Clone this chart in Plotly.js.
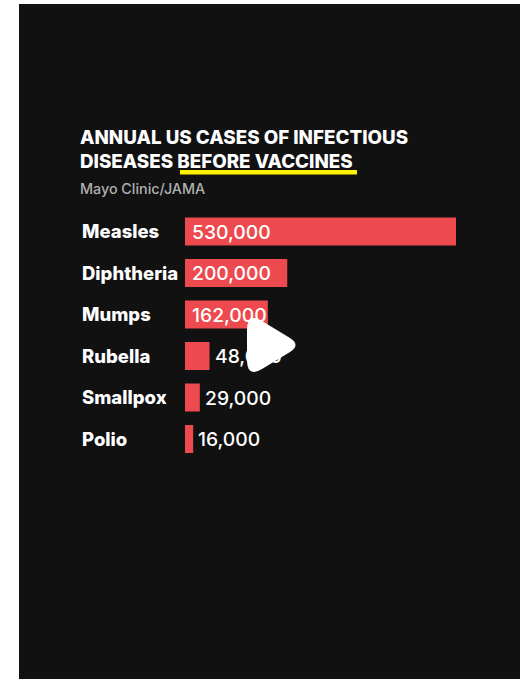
<!DOCTYPE html>
<html><head><meta charset="utf-8">
<script src="https://cdn.plot.ly/plotly-3.0.1.min.js"></script>
<style>html,body{margin:0;padding:0;background:#fff}</style></head>
<body><div id="chart" style="width:520px;height:679px"></div>
<script>
const categories = ["Measles","Diphtheria","Mumps","Rubella","Smallpox","Polio"];
const cases = [530000,200000,162000,48000,29000,16000];
const valueLabels = ["530,000","200,000","162,000","48,000","29,000","16,000"];
const labelInside = [true,true,true,false,false,false];

const W=520,H=679,L=19,T=4;
const px=x=>(x-L)/(W-L), py=y=>1-(y-T)/(H-T);
const scale=271/530000;
const font="Inter, 'Liberation Sans', sans-serif";
const ann=[];
categories.forEach((c,i)=>{
  ann.push({xref:'paper',yref:'y',x:px(82.5),xshift:-2.5,yshift:0.5,y:c,text:c,showarrow:false,xanchor:'left',yanchor:'middle',
    font:{family:font,size:18.5,color:'#fff',weight:800}});
  ann.push({xref:'x',yref:'y',x:labelInside[i]?0:cases[i],xshift:labelInside[i]?5:3,y:c,text:valueLabels[i],showarrow:false,
    xanchor:'left',yanchor:'middle',font:{family:font,size:19.3,color:'#fff',weight:500}});
});
ann.push({xref:'paper',yref:'paper',x:px(80),y:py(188.5),text:'Mayo Clinic/JAMA',showarrow:false,xanchor:'left',yanchor:'middle',
  xshift:-2,font:{family:font,size:14.3,color:'#b0b0b0',weight:500}});

const play=`M${px(247)},${py(330)} Q${px(247)},${py(312)} ${px(262)},${py(321)} L${px(290)},${py(338)} Q${px(301)},${py(345)} ${px(290)},${py(352)} L${px(262)},${py(369)} Q${px(247)},${py(378)} ${px(247)},${py(360)} Z`;

Plotly.newPlot('chart',[{
  type:'bar',orientation:'h',y:categories,x:cases,width:0.675,
  marker:{color:'#ec4a4f',line:{width:0}},hoverinfo:'skip'
}],{
  width:W,height:H,autosize:false,showlegend:false,
  margin:{l:L,t:T,r:0,b:0,pad:0},
  paper_bgcolor:'#fff',plot_bgcolor:'#111111',
  title:{text:'ANNUAL US CASES OF INFECTIOUS<br>DISEASES BEFORE VACCINES',x:80/W,xanchor:'left',xref:'container',
    y:1-143.5/H,yanchor:'top',yref:'container',pad:{t:0,b:0,l:0,r:0},font:{family:font,size:18.8,color:'#fff',weight:800}},
  xaxis:{range:[-166/scale,335/scale],visible:false,fixedrange:true},
  yaxis:{type:'category',categoryorder:'array',categoryarray:categories,
    range:[10.783,-5.482],visible:false,fixedrange:true},
  annotations:ann,
  shapes:[
    {type:'rect',xref:'paper',yref:'paper',x0:px(180),x1:px(357),y0:py(170),y1:py(174.5),fillcolor:'#fff200',line:{width:0},layer:'above'},
    {type:'path',xref:'paper',yref:'paper',path:play,fillcolor:'#fff',line:{width:0},layer:'above'}
  ]
},{displayModeBar:false,staticPlot:true});
</script></body></html>
